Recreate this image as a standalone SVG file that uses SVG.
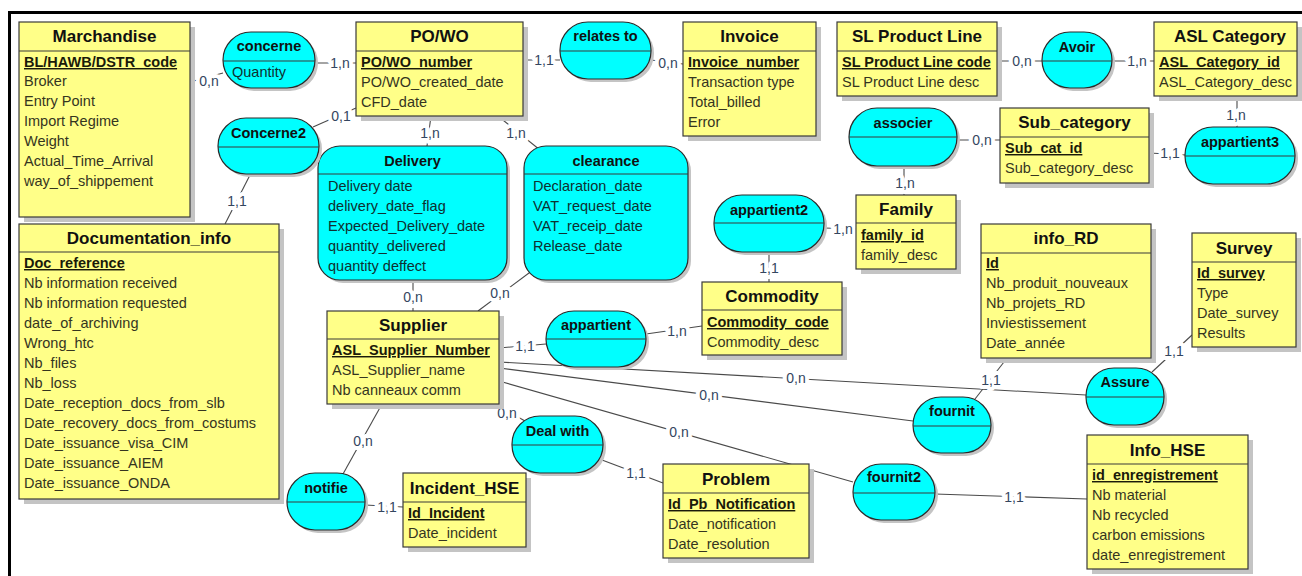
<svg xmlns="http://www.w3.org/2000/svg" width="1302" height="576" viewBox="0 0 1302 576">
<style>
  text { font-family: "Liberation Sans", Arial, sans-serif; }
  .box { fill: #ffff88; stroke: #3a3a3a; stroke-width: 1.2; }
  .pill { fill: #00ffff; stroke: #2a2a2a; stroke-width: 1.2; }
  .shadow { fill: #c4c4c4; }
  .sep { stroke: #3a3a3a; stroke-width: 1.2; }
  .title { font-size: 17px; font-weight: bold; fill: #111; text-anchor: middle; }
  .rtitle { font-size: 14.5px; font-weight: bold; fill: #111; text-anchor: middle; }
  .attr { font-size: 14.5px; fill: #35351f; }
  .key { font-size: 14.5px; font-weight: bold; fill: #1a1a0a; text-decoration: underline; }
  .rattr { font-size: 14.5px; fill: #0f3030; }
  .link { stroke: #4a4a4a; stroke-width: 1.1; fill: none; }
  .card { font-size: 14px; fill: #34465f; text-anchor: middle; stroke: #fff; stroke-width: 8; paint-order: stroke; stroke-linejoin: round; }
  .frame { stroke: #000; stroke-width: 3; fill: none; }
</style>

<!-- page frame -->
<path class="frame" d="M9.5,580 V12.5 H1306"/>

<!-- connectors -->
<g id="connectors">
  <line class="link" x1="190" y1="82" x2="223" y2="73"/>
  <line class="link" x1="315" y1="63" x2="356" y2="63"/>
  <line class="link" x1="523" y1="60" x2="560" y2="60"/>
  <line class="link" x1="651" y1="60" x2="683" y2="64"/>
  <line class="link" x1="997" y1="61" x2="1042" y2="61"/>
  <line class="link" x1="1112" y1="61" x2="1154" y2="61"/>
  <line class="link" x1="1237" y1="96" x2="1237" y2="127"/>
  <line class="link" x1="1149" y1="153" x2="1186" y2="155"/>
  <line class="link" x1="957" y1="140" x2="1000" y2="140"/>
  <line class="link" x1="904" y1="166" x2="904" y2="195"/>
  <line class="link" x1="824" y1="228" x2="856" y2="229"/>
  <line class="link" x1="769" y1="252" x2="769" y2="282"/>
  <line class="link" x1="646" y1="334" x2="702" y2="326"/>
  <line class="link" x1="499" y1="348" x2="546" y2="344"/>
  <line class="link" x1="313" y1="127" x2="356" y2="108"/>
  <line class="link" x1="250" y1="175" x2="225" y2="224"/>
  <line class="link" x1="431" y1="116" x2="427" y2="146"/>
  <line class="link" x1="498" y1="116" x2="540" y2="150"/>
  <line class="link" x1="413" y1="280" x2="413" y2="311"/>
  <line class="link" x1="533" y1="270" x2="478" y2="311"/>
  <line class="link" x1="382" y1="404" x2="343" y2="474"/>
  <line class="link" x1="365" y1="505" x2="403" y2="507"/>
  <line class="link" x1="495" y1="404" x2="525" y2="421"/>
  <line class="link" x1="602" y1="460" x2="663" y2="483"/>
  <line class="link" x1="499" y1="381" x2="853" y2="482"/>
  <line class="link" x1="499" y1="368" x2="913" y2="421"/>
  <line class="link" x1="499" y1="362" x2="1086" y2="395"/>
  <line class="link" x1="975" y1="399" x2="1004" y2="362"/>
  <line class="link" x1="1152" y1="372" x2="1192" y2="335"/>
  <line class="link" x1="935" y1="494" x2="1087" y2="499"/>

  <text class="card" x="209" y="86">0,n</text>
  <text class="card" x="340" y="68">1,n</text>
  <text class="card" x="544" y="65">1,1</text>
  <text class="card" x="668" y="68">0,n</text>
  <text class="card" x="1022" y="66">0,n</text>
  <text class="card" x="1137" y="66">1,n</text>
  <text class="card" x="1236" y="120">1,n</text>
  <text class="card" x="1170" y="158">1,1</text>
  <text class="card" x="982" y="145">0,n</text>
  <text class="card" x="905" y="188">1,n</text>
  <text class="card" x="843" y="234">1,n</text>
  <text class="card" x="769" y="273">1,1</text>
  <text class="card" x="677" y="336">1,n</text>
  <text class="card" x="525" y="351">1,1</text>
  <text class="card" x="341" y="121">0,1</text>
  <text class="card" x="237" y="206">1,1</text>
  <text class="card" x="430" y="138">1,n</text>
  <text class="card" x="516" y="138">1,n</text>
  <text class="card" x="413" y="302">0,n</text>
  <text class="card" x="500" y="298">0,n</text>
  <text class="card" x="363" y="446">0,n</text>
  <text class="card" x="387" y="512">1,1</text>
  <text class="card" x="507" y="418">0,n</text>
  <text class="card" x="636" y="478">1,1</text>
  <text class="card" x="679" y="437">0,n</text>
  <text class="card" x="709" y="400">0,n</text>
  <text class="card" x="796" y="383">0,n</text>
  <text class="card" x="991" y="385">1,1</text>
  <text class="card" x="1174" y="356">1,1</text>
  <text class="card" x="1014" y="502">1,1</text>
</g>

<!-- entities -->
<g id="marchandise">
  <rect class="shadow" x="24" y="27" width="171" height="195"/>
  <rect class="box" x="19" y="22" width="171" height="195"/>
  <line class="sep" x1="19" y1="51" x2="190" y2="51"/>
  <text class="title" x="104.5" y="42">Marchandise</text>
  <text class="key" x="24" y="67">BL/HAWB/DSTR_code</text>
  <text class="attr" x="24" y="86">Broker</text>
  <text class="attr" x="24" y="106">Entry Point</text>
  <text class="attr" x="24" y="126">Import Regime</text>
  <text class="attr" x="24" y="146">Weight</text>
  <text class="attr" x="24" y="166">Actual_Time_Arrival</text>
  <text class="attr" x="24" y="186">way_of_shippement</text>
</g>

<g id="po_wo">
  <rect class="shadow" x="361" y="27" width="167" height="94"/>
  <rect class="box" x="356" y="22" width="167" height="94"/>
  <line class="sep" x1="356" y1="51" x2="523" y2="51"/>
  <text class="title" x="439.5" y="42">PO/WO</text>
  <text class="key" x="361" y="67">PO/WO_number</text>
  <text class="attr" x="361" y="87">PO/WO_created_date</text>
  <text class="attr" x="361" y="107">CFD_date</text>
</g>

<g id="invoice">
  <rect class="shadow" x="688" y="27" width="133" height="114"/>
  <rect class="box" x="683" y="22" width="133" height="114"/>
  <line class="sep" x1="683" y1="51" x2="816" y2="51"/>
  <text class="title" x="749.5" y="42">Invoice</text>
  <text class="key" x="688" y="67">Invoice_number</text>
  <text class="attr" x="688" y="87">Transaction type</text>
  <text class="attr" x="688" y="107">Total_billed</text>
  <text class="attr" x="688" y="127">Error</text>
</g>

<g id="sl_product_line">
  <rect class="shadow" x="842" y="27" width="160" height="74"/>
  <rect class="box" x="837" y="22" width="160" height="74"/>
  <line class="sep" x1="837" y1="51" x2="997" y2="51"/>
  <text class="title" x="917" y="42">SL Product Line</text>
  <text class="key" x="842" y="67">SL Product Line code</text>
  <text class="attr" x="842" y="87">SL Product Line desc</text>
</g>

<g id="asl_category">
  <rect class="shadow" x="1159" y="27" width="143" height="74"/>
  <rect class="box" x="1154" y="22" width="143" height="74"/>
  <line class="sep" x1="1154" y1="51" x2="1297" y2="51"/>
  <text class="title" x="1230" y="42">ASL Category</text>
  <text class="key" x="1159" y="67">ASL_Category_id</text>
  <text class="attr" x="1159" y="87">ASL_Category_desc</text>
</g>

<g id="sub_category">
  <rect class="shadow" x="1005" y="113" width="149" height="75"/>
  <rect class="box" x="1000" y="108" width="149" height="75"/>
  <line class="sep" x1="1000" y1="137" x2="1149" y2="137"/>
  <text class="title" x="1074.5" y="128">Sub_category</text>
  <text class="key" x="1005" y="153">Sub_cat_id</text>
  <text class="attr" x="1005" y="173">Sub_category_desc</text>
</g>

<g id="family">
  <rect class="shadow" x="861" y="200" width="100" height="74"/>
  <rect class="box" x="856" y="195" width="100" height="74"/>
  <line class="sep" x1="856" y1="223" x2="956" y2="223"/>
  <text class="title" x="906" y="215">Family</text>
  <text class="key" x="861" y="240">family_id</text>
  <text class="attr" x="861" y="260">family_desc</text>
</g>

<g id="commodity">
  <rect class="shadow" x="707" y="287" width="140" height="73"/>
  <rect class="box" x="702" y="282" width="140" height="73"/>
  <line class="sep" x1="702" y1="310" x2="842" y2="310"/>
  <text class="title" x="772" y="302">Commodity</text>
  <text class="key" x="707" y="327">Commodity_code</text>
  <text class="attr" x="707" y="347">Commodity_desc</text>
</g>

<g id="documentation_info">
  <rect class="shadow" x="24" y="229" width="260" height="275"/>
  <rect class="box" x="19" y="224" width="260" height="275"/>
  <line class="sep" x1="19" y1="252" x2="279" y2="252"/>
  <text class="title" x="149" y="244">Documentation_info</text>
  <text class="key" x="24" y="268">Doc_reference</text>
  <text class="attr" x="24" y="288">Nb information received</text>
  <text class="attr" x="24" y="308">Nb information requested</text>
  <text class="attr" x="24" y="328">date_of_archiving</text>
  <text class="attr" x="24" y="348">Wrong_htc</text>
  <text class="attr" x="24" y="368">Nb_files</text>
  <text class="attr" x="24" y="388">Nb_loss</text>
  <text class="attr" x="24" y="408">Date_reception_docs_from_slb</text>
  <text class="attr" x="24" y="428">Date_recovery_docs_from_costums</text>
  <text class="attr" x="24" y="448">Date_issuance_visa_CIM</text>
  <text class="attr" x="24" y="468">Date_issuance_AIEM</text>
  <text class="attr" x="24" y="488">Date_issuance_ONDA</text>
</g>

<g id="supplier">
  <rect class="shadow" x="332" y="316" width="172" height="93"/>
  <rect class="box" x="327" y="311" width="172" height="93"/>
  <line class="sep" x1="327" y1="339" x2="499" y2="339"/>
  <text class="title" x="413" y="331">Supplier</text>
  <text class="key" x="332" y="355">ASL_Supplier_Number</text>
  <text class="attr" x="332" y="375">ASL_Supplier_name</text>
  <text class="attr" x="332" y="395">Nb canneaux comm</text>
</g>

<g id="incident_hse">
  <rect class="shadow" x="408" y="478" width="123" height="74"/>
  <rect class="box" x="403" y="473" width="123" height="74"/>
  <line class="sep" x1="403" y1="502" x2="526" y2="502"/>
  <text class="title" x="464.5" y="494">Incident_HSE</text>
  <text class="key" x="408" y="518">Id_Incident</text>
  <text class="attr" x="408" y="538">Date_incident</text>
</g>

<g id="problem">
  <rect class="shadow" x="668" y="469" width="146" height="94"/>
  <rect class="box" x="663" y="464" width="146" height="94"/>
  <line class="sep" x1="663" y1="493" x2="809" y2="493"/>
  <text class="title" x="736" y="485">Problem</text>
  <text class="key" x="668" y="509">Id_Pb_Notification</text>
  <text class="attr" x="668" y="529">Date_notification</text>
  <text class="attr" x="668" y="549">Date_resolution</text>
</g>

<g id="info_rd">
  <rect class="shadow" x="986" y="229" width="170" height="134"/>
  <rect class="box" x="981" y="224" width="170" height="134"/>
  <line class="sep" x1="981" y1="253" x2="1151" y2="253"/>
  <text class="title" x="1066" y="244">info_RD</text>
  <text class="key" x="986" y="268">Id</text>
  <text class="attr" x="986" y="288">Nb_produit_nouveaux</text>
  <text class="attr" x="986" y="308">Nb_projets_RD</text>
  <text class="attr" x="986" y="328">Inviestissement</text>
  <text class="attr" x="986" y="348">Date_année</text>
</g>

<g id="survey">
  <rect class="shadow" x="1197" y="238" width="104" height="114"/>
  <rect class="box" x="1192" y="233" width="104" height="114"/>
  <line class="sep" x1="1192" y1="262" x2="1296" y2="262"/>
  <text class="title" x="1244" y="254">Survey</text>
  <text class="key" x="1197" y="278">Id_survey</text>
  <text class="attr" x="1197" y="298">Type</text>
  <text class="attr" x="1197" y="318">Date_survey</text>
  <text class="attr" x="1197" y="338">Results</text>
</g>

<g id="info_hse">
  <rect class="shadow" x="1092" y="440" width="161" height="134"/>
  <rect class="box" x="1087" y="435" width="161" height="134"/>
  <line class="sep" x1="1087" y1="464" x2="1248" y2="464"/>
  <text class="title" x="1167.5" y="456">Info_HSE</text>
  <text class="key" x="1092" y="480">id_enregistrement</text>
  <text class="attr" x="1092" y="500">Nb material</text>
  <text class="attr" x="1092" y="520">Nb recycled</text>
  <text class="attr" x="1092" y="540">carbon emissions</text>
  <text class="attr" x="1092" y="560">date_enregistrement</text>
</g>

<!-- associations with attributes -->
<g id="delivery">
  <rect class="shadow" x="321" y="149" width="189" height="134" rx="22" ry="22"/>
  <rect class="pill" x="318" y="146" width="189" height="134" rx="22" ry="22"/>
  <line class="sep" x1="318" y1="174" x2="507" y2="174"/>
  <text class="rtitle" x="412.5" y="166">Delivery</text>
  <text class="rattr" x="328" y="191">Delivery date</text>
  <text class="rattr" x="328" y="211">delivery_date_flag</text>
  <text class="rattr" x="328" y="231">Expected_Delivery_date</text>
  <text class="rattr" x="328" y="251">quantity_delivered</text>
  <text class="rattr" x="328" y="271">quantity deffect</text>
</g>

<g id="clearance">
  <rect class="shadow" x="527" y="149" width="164" height="134" rx="22" ry="22"/>
  <rect class="pill" x="524" y="146" width="164" height="134" rx="22" ry="22"/>
  <line class="sep" x1="524" y1="174" x2="688" y2="174"/>
  <text class="rtitle" x="606" y="166">clearance</text>
  <text class="rattr" x="533" y="191">Declaration_date</text>
  <text class="rattr" x="533" y="211">VAT_request_date</text>
  <text class="rattr" x="533" y="231">VAT_receip_date</text>
  <text class="rattr" x="533" y="251">Release_date</text>
</g>

<!-- associations -->
<g id="concerne">
  <rect class="shadow" x="226" y="35" width="92" height="56" rx="28" ry="28"/>
  <rect class="pill" x="223" y="32" width="92" height="56" rx="28" ry="28"/>
  <line class="sep" x1="223" y1="61" x2="315" y2="61"/>
  <text class="rtitle" x="269" y="51">concerne</text>
  <text class="rattr" x="232" y="77">Quantity</text>
</g>

<g id="relates_to">
  <rect class="shadow" x="563" y="25" width="91" height="57" rx="28" ry="28"/>
  <rect class="pill" x="560" y="22" width="91" height="57" rx="28" ry="28"/>
  <line class="sep" x1="560" y1="51" x2="651" y2="51"/>
  <text class="rtitle" x="605.5" y="41">relates to</text>
</g>

<g id="avoir">
  <rect class="shadow" x="1045" y="35" width="70" height="56" rx="28" ry="28"/>
  <rect class="pill" x="1042" y="32" width="70" height="56" rx="28" ry="28"/>
  <line class="sep" x1="1042" y1="61" x2="1112" y2="61"/>
  <text class="rtitle" x="1077" y="52">Avoir</text>
</g>

<g id="appartient3">
  <rect class="shadow" x="1188" y="130" width="110" height="57" rx="28" ry="28"/>
  <rect class="pill" x="1185" y="127" width="110" height="57" rx="28" ry="28"/>
  <line class="sep" x1="1185" y1="156" x2="1295" y2="156"/>
  <text class="rtitle" x="1240" y="147">appartient3</text>
</g>

<g id="associer">
  <rect class="shadow" x="852" y="111" width="108" height="58" rx="28" ry="29"/>
  <rect class="pill" x="849" y="108" width="108" height="58" rx="28" ry="29"/>
  <line class="sep" x1="849" y1="137" x2="957" y2="137"/>
  <text class="rtitle" x="903" y="128">associer</text>
</g>

<g id="appartient2">
  <rect class="shadow" x="717" y="198" width="110" height="57" rx="28" ry="28"/>
  <rect class="pill" x="714" y="195" width="110" height="57" rx="28" ry="28"/>
  <line class="sep" x1="714" y1="223" x2="824" y2="223"/>
  <text class="rtitle" x="769" y="215">appartient2</text>
</g>

<g id="appartient">
  <rect class="shadow" x="549" y="314" width="100" height="56" rx="28" ry="28"/>
  <rect class="pill" x="546" y="311" width="100" height="56" rx="28" ry="28"/>
  <line class="sep" x1="546" y1="339" x2="646" y2="339"/>
  <text class="rtitle" x="596" y="330">appartient</text>
</g>

<g id="concerne2">
  <rect class="shadow" x="221" y="121" width="101" height="56" rx="28" ry="28"/>
  <rect class="pill" x="218" y="118" width="101" height="56" rx="28" ry="28"/>
  <line class="sep" x1="218" y1="147" x2="319" y2="147"/>
  <text class="rtitle" x="268.5" y="138">Concerne2</text>
</g>

<g id="notifie">
  <rect class="shadow" x="290" y="476" width="78" height="57" rx="28" ry="28"/>
  <rect class="pill" x="287" y="473" width="78" height="57" rx="28" ry="28"/>
  <line class="sep" x1="287" y1="502" x2="365" y2="502"/>
  <text class="rtitle" x="326" y="493">notifie</text>
</g>

<g id="deal_with">
  <rect class="shadow" x="515" y="419" width="91" height="57" rx="28" ry="28"/>
  <rect class="pill" x="512" y="416" width="91" height="57" rx="28" ry="28"/>
  <line class="sep" x1="512" y1="445" x2="603" y2="445"/>
  <text class="rtitle" x="557.5" y="436">Deal with</text>
</g>

<g id="fournit">
  <rect class="shadow" x="916" y="400" width="78" height="56" rx="28" ry="28"/>
  <rect class="pill" x="913" y="397" width="78" height="56" rx="28" ry="28"/>
  <line class="sep" x1="913" y1="426" x2="991" y2="426"/>
  <text class="rtitle" x="952" y="416">fournit</text>
</g>

<g id="assure">
  <rect class="shadow" x="1089" y="371" width="78" height="57" rx="28" ry="28"/>
  <rect class="pill" x="1086" y="368" width="78" height="57" rx="28" ry="28"/>
  <line class="sep" x1="1086" y1="397" x2="1164" y2="397"/>
  <text class="rtitle" x="1125" y="387">Assure</text>
</g>

<g id="fournit2">
  <rect class="shadow" x="856" y="467" width="82" height="56" rx="28" ry="28"/>
  <rect class="pill" x="853" y="464" width="82" height="56" rx="28" ry="28"/>
  <line class="sep" x1="853" y1="493" x2="935" y2="493"/>
  <text class="rtitle" x="894" y="482">fournit2</text>
</g>
</svg>
